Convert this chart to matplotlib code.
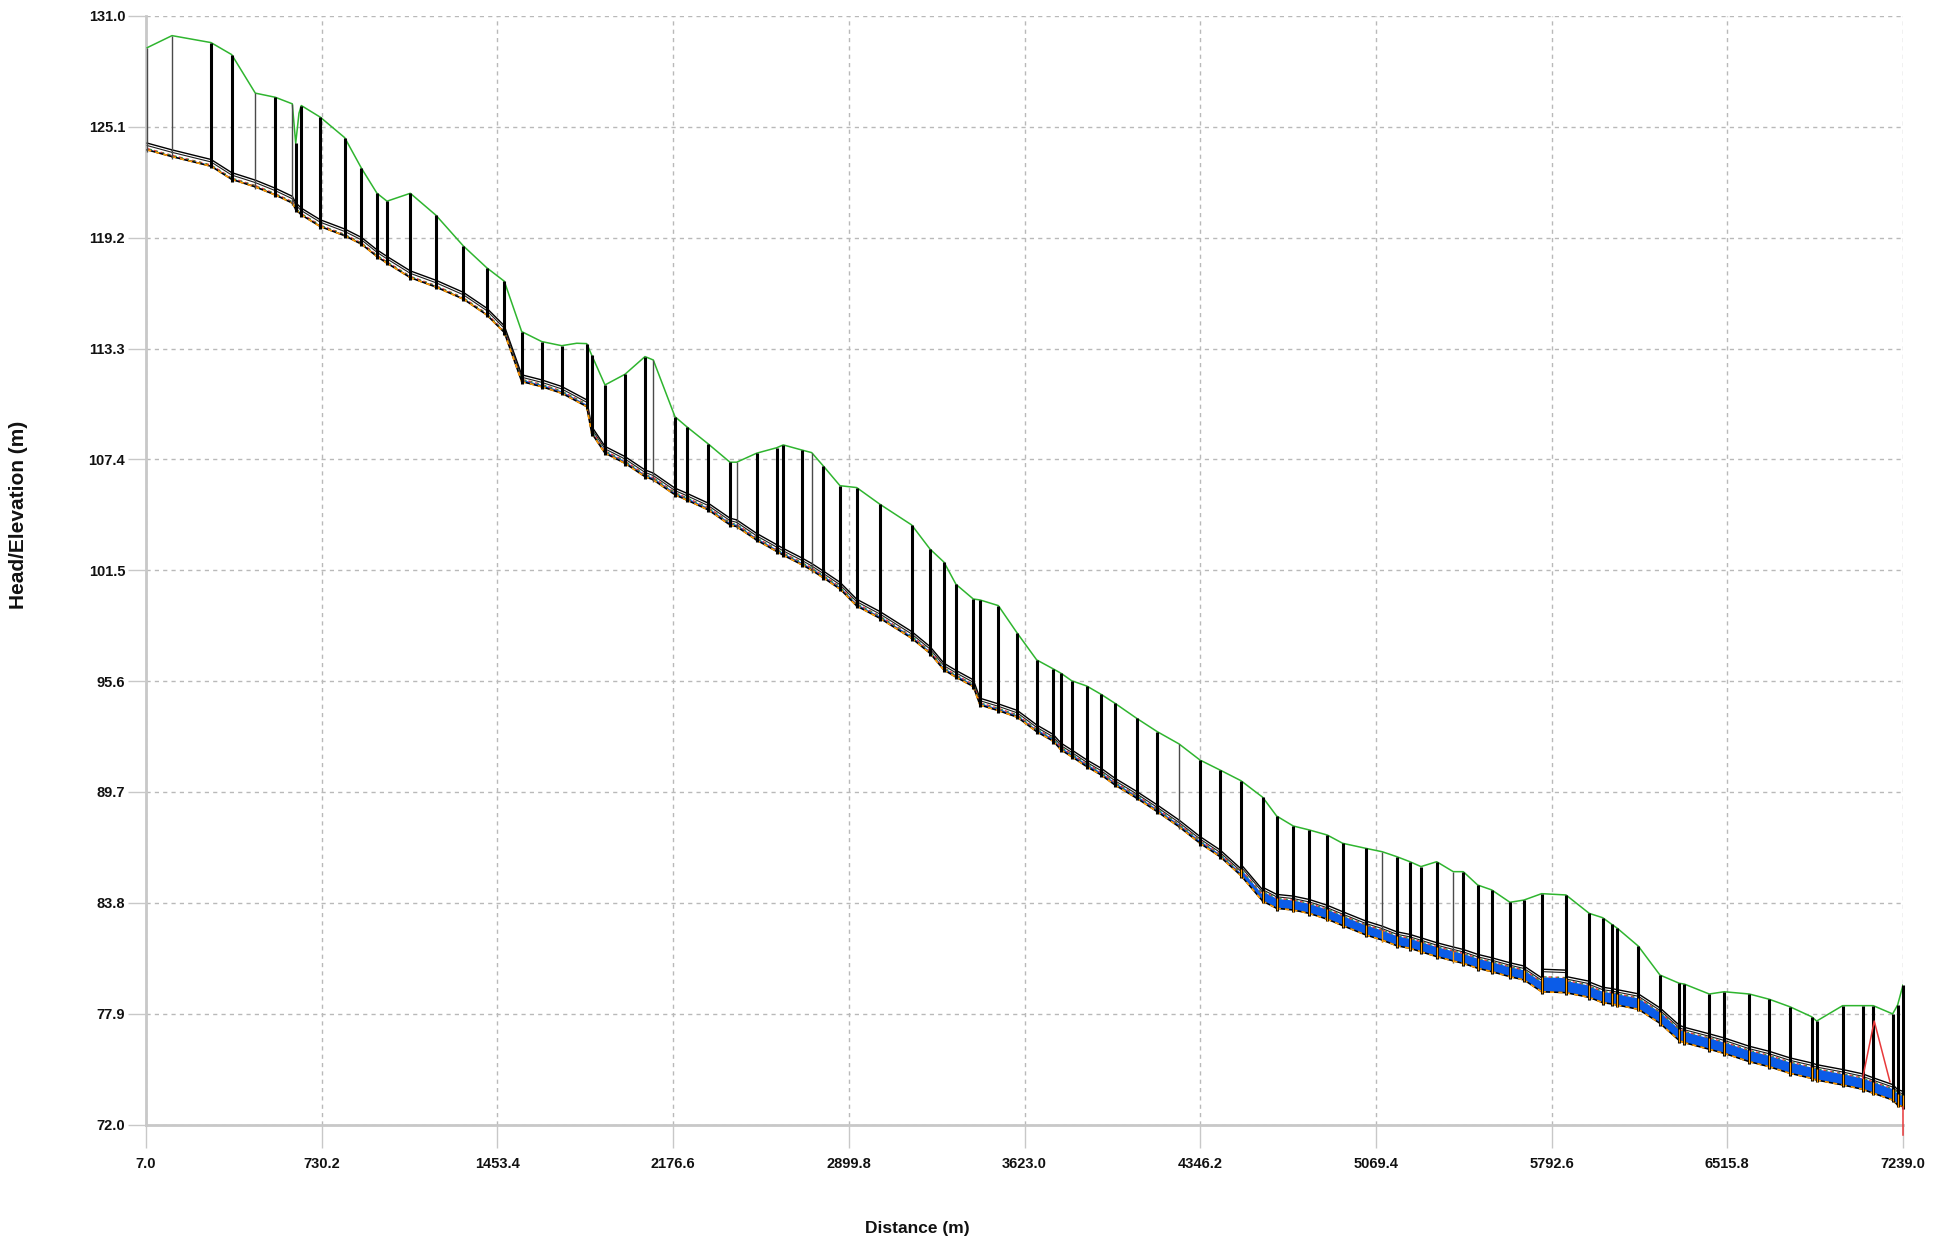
import numpy as np
import matplotlib
matplotlib.use("Agg")
import matplotlib.pyplot as plt

# ---------------------------------------------------------------------------
# Sewer long-section: manhole stations (m), rim / ground and invert levels (m)
# ---------------------------------------------------------------------------
station = [
    12.0, 114.0, 274.5, 359.7, 456.9, 539.2, 609.2, 623.2, 646.2, 724.4,
    824.9, 894.0, 957.8, 999.0, 1094.9, 1200.6, 1313.0, 1409.3, 1481.8, 1553.4,
    1635.7, 1718.0, 1820.9, 1841.5, 1896.2, 1978.6, 2060.9, 2095.0, 2184.4, 2232.5,
    2321.4, 2410.7, 2438.3, 2520.6, 2603.0, 2630.1, 2705.9, 2747.0, 2794.8, 2863.5,
    2932.2, 3028.1, 3158.6, 3233.9, 3291.6, 3341.0, 3412.2, 3439.7, 3515.1, 3593.3,
    3673.1, 3741.4, 3773.1, 3817.2, 3878.9, 3937.8, 3995.4, 4084.7, 4169.5, 4258.8,
    4345.3, 4427.6, 4514.0, 4603.3, 4660.9, 4729.3, 4795.1, 4869.2, 4932.6, 5028.5,
    5095.6, 5154.9, 5209.6, 5254.9, 5319.5, 5387.8, 5429.0, 5488.3, 5545.9, 5621.2,
    5678.8, 5751.7, 5851.7, 5947.6, 6002.8, 6039.8, 6062.9, 6149.3, 6238.6, 6318.1,
    6338.6, 6441.5, 6503.3, 6606.2, 6688.5, 6773.7, 6863.0, 6883.6, 6990.6, 7072.9,
    7116.6, 7196.4, 7217.0, 7239.0,
]
ground = [
    129.31, 129.95, 129.58, 128.94, 126.89, 126.67, 126.32, 124.22, 126.23, 125.61,
    124.52, 122.89, 121.56, 121.14, 121.56, 120.39, 118.76, 117.60, 116.88, 114.20,
    113.67, 113.45, 113.56, 112.95, 111.36, 111.93, 112.87, 112.69, 109.67, 109.14,
    108.22, 107.25, 107.25, 107.73, 108.02, 108.17, 107.90, 107.76, 107.05, 106.00,
    105.90, 105.01, 103.91, 102.63, 101.93, 100.75, 99.97, 99.92, 99.62, 98.15,
    96.73, 96.25, 96.02, 95.62, 95.34, 94.90, 94.42, 93.62, 92.91, 92.26,
    91.40, 90.87, 90.30, 89.42, 88.42, 87.89, 87.68, 87.41, 86.97, 86.70,
    86.52, 86.26, 85.99, 85.73, 85.99, 85.46, 85.46, 84.75, 84.49, 83.83,
    83.95, 84.29, 84.22, 83.24, 83.01, 82.66, 82.45, 81.50, 79.96, 79.52,
    79.48, 78.95, 79.07, 78.95, 78.67, 78.27, 77.74, 77.51, 78.33, 78.33,
    78.33, 77.89, 78.37, 79.43,
]
invert = [
    123.87, 123.51, 123.00, 122.30, 121.90, 121.47, 121.04, 120.70, 120.41, 119.79,
    119.30, 118.85, 118.19, 117.84, 117.07, 116.57, 115.93, 115.09, 114.15, 111.54,
    111.27, 110.92, 110.21, 108.79, 107.73, 107.19, 106.48, 106.31, 105.51, 105.24,
    104.71, 103.91, 103.82, 103.10, 102.50, 102.30, 101.80, 101.50, 101.10, 100.50,
    99.60, 98.94, 97.88, 97.08, 96.19, 95.81, 95.31, 94.33, 94.03, 93.68,
    92.91, 92.40, 91.94, 91.58, 91.05, 90.61, 90.07, 89.37, 88.65, 87.85,
    86.97, 86.26, 85.25, 83.89, 83.51, 83.42, 83.24, 82.93, 82.59, 82.09,
    81.82, 81.52, 81.38, 81.20, 80.94, 80.71, 80.58, 80.32, 80.14, 79.87,
    79.70, 79.07, 79.02, 78.77, 78.49, 78.42, 78.36, 78.14, 77.39, 76.47,
    76.36, 76.01, 75.79, 75.35, 75.08, 74.73, 74.46, 74.37, 74.11, 73.88,
    73.67, 73.31, 73.04, 72.95,
]

# ground survey points lying between manholes
ground_extra_station = [636.7, 1779.8]
ground_extra_elev = [125.82, 113.58]

# pipe i runs from manhole i to manhole i+1: conduit height and flow depth (m)
diameter = [
    0.36, 0.36, 0.36, 0.36, 0.36, 0.36, 0.36, 0.36, 0.36, 0.36,
    0.36, 0.36, 0.36, 0.36, 0.36, 0.36, 0.36, 0.36, 0.36, 0.36,
    0.36, 0.36, 0.36, 0.36, 0.36, 0.36, 0.36, 0.36, 0.36, 0.36,
    0.36, 0.36, 0.36, 0.36, 0.36, 0.36, 0.36, 0.36, 0.36, 0.36,
    0.36, 0.36, 0.36, 0.36, 0.36, 0.36, 0.36, 0.36, 0.36, 0.36,
    0.36, 0.36, 0.36, 0.36, 0.36, 0.36, 0.36, 0.36, 0.36, 0.36,
    0.36, 0.36, 0.60, 0.74, 0.74, 0.74, 0.74, 0.74, 0.74, 0.74,
    0.74, 0.74, 0.74, 0.74, 0.74, 0.74, 0.74, 0.74, 0.74, 0.74,
    0.74, 1.20, 0.86, 0.82, 0.82, 0.82, 0.82, 0.82, 0.82, 0.82,
    0.82, 0.82, 0.82, 0.82, 0.82, 0.82, 0.82, 0.82, 0.82, 0.82,
    0.82, 0.82, 0.82,
]
depth = [
    0.07, 0.07, 0.07, 0.07, 0.07, 0.07, 0.07, 0.07, 0.07, 0.07,
    0.07, 0.07, 0.07, 0.07, 0.07, 0.07, 0.07, 0.07, 0.07, 0.12,
    0.12, 0.12, 0.12, 0.12, 0.12, 0.12, 0.12, 0.12, 0.12, 0.12,
    0.12, 0.12, 0.12, 0.12, 0.12, 0.12, 0.12, 0.12, 0.12, 0.12,
    0.12, 0.12, 0.12, 0.12, 0.12, 0.12, 0.12, 0.12, 0.12, 0.12,
    0.14, 0.14, 0.14, 0.14, 0.14, 0.14, 0.14, 0.14, 0.14, 0.14,
    0.14, 0.14, 0.34, 0.53, 0.53, 0.53, 0.53, 0.53, 0.53, 0.53,
    0.53, 0.53, 0.53, 0.53, 0.53, 0.53, 0.53, 0.53, 0.53, 0.53,
    0.53, 0.80, 0.65, 0.60, 0.60, 0.60, 0.60, 0.60, 0.60, 0.60,
    0.60, 0.60, 0.60, 0.60, 0.60, 0.60, 0.60, 0.60, 0.60, 0.60,
    0.60, 0.60, 0.60,
]

# manholes drawn with a light outline
thin_manholes = [0, 1, 4, 6, 27, 32, 37, 59, 70, 75]

# hydraulic grade line where it leaves the conduits
hgl_surcharge_x = [7072.9, 7120.6, 7185.2]
hgl_surcharge_y = [74.46, 77.51, 74.28]
outfall_hgl_x = [7239.0, 7239.0]
outfall_hgl_y = [72.95, 71.45]

x_ticks = [7.0, 730.2, 1453.4, 2176.6, 2899.8, 3623.0, 4346.2, 5069.4, 5792.6, 6515.8, 7239.0]
y_ticks = [72.0, 77.9, 83.8, 89.7, 95.6, 101.5, 107.4, 113.3, 119.2, 125.1, 131.0]

# ---------------------------------------------------------------------------
FONT = ["Liberation Sans", "DejaVu Sans"]
GREEN = "#2fb52f"
BLUE = "#0b5ce8"
ORANGE = "#ff9a00"
RED = "#e8393a"
AXIS_GREY = "#c8c8c8"

W, H = 1950, 1244
fig = plt.figure(figsize=(W / 100, H / 100), dpi=100)
ax = fig.add_axes([146 / W, 1 - 1124.6 / H, 1757 / W, 1108.7 / H])

st = np.asarray(station)
inv = np.asarray(invert)
gr = np.asarray(ground)
dia = np.asarray(diameter)
dep = np.asarray(depth)

# conduits: flow area, crown, soffit, water surface, invert
for i in range(len(st) - 1):
    xs = [st[i], st[i + 1]]
    bot = np.array([inv[i], inv[i + 1]])
    wat = bot + dep[i]
    crown = bot + dia[i]
    ax.fill_between(xs, bot, wat, color=BLUE, lw=0, zorder=2)
    ax.plot(xs, crown, color="black", lw=1.0, zorder=3)
    ax.plot(xs, crown - 0.13, color="#1e1e1e", lw=0.8, zorder=3)
    ax.plot(xs, wat, color=RED, lw=1.0, ls=(0, (2.5, 2.5)), zorder=3)
    ax.plot(xs, wat, color="#2a9a4a", lw=0.9, ls=(2.5, (1.5, 3.5)), zorder=3)
    ax.plot(xs, bot, color="black", lw=1.1, zorder=3)
    ax.plot(xs, bot, color=ORANGE, lw=1.2, ls=(0, (2.5, 2.5)), zorder=3)

# ground profile
gx = np.concatenate([st, ground_extra_station])
gz = np.concatenate([gr, ground_extra_elev])
order = np.argsort(gx)
ax.plot(gx[order], gz[order], color=GREEN, lw=1.1, zorder=4)

# manholes
for i in range(len(st)):
    thin = i in thin_manholes
    ax.plot([st[i], st[i]], [inv[i] - 0.12, gr[i]],
            color="#4a4a4a" if thin else "black",
            lw=1.0 if thin else 2.2, zorder=5, clip_on=False,
            solid_capstyle="butt")
    up = dep[i - 1] if i > 0 else 0.0
    dn = dep[i] if i < len(dep) else 0.0
    wet = max(up, dn)
    if wet >= 0.3:
        ax.plot([st[i], st[i]], [inv[i] - 0.08, inv[i] + wet],
                color=ORANGE, lw=0.9, zorder=6, clip_on=False,
                solid_capstyle="butt")

ax.plot(hgl_surcharge_x, hgl_surcharge_y, color=RED, lw=1.1, zorder=6)
ax.plot(outfall_hgl_x, outfall_hgl_y, color=RED, lw=1.1, zorder=6, clip_on=False)

# axes, grid and labels
ax.set_xlim(7.0, 7239.0)
ax.set_ylim(72.0, 131.0)
ax.set_xticks(x_ticks)
ax.set_yticks(y_ticks)
ax.set_xticklabels([f"{v:.1f}" for v in x_ticks])
ax.set_yticklabels([f"{v:.1f}" for v in y_ticks])
ax.set_axisbelow(True)
ax.grid(True, color="#b9b9b9", lw=1.0, ls=(0, (3, 3)))

for side in ("top", "right"):
    ax.spines[side].set_visible(False)
for side in ("left", "bottom"):
    ax.spines[side].set_color(AXIS_GREY)
    ax.spines[side].set_linewidth(2.0)
    ax.spines[side].set_zorder(1)

ax.tick_params(axis="y", length=13, width=1.0, color=AXIS_GREY, pad=2)
ax.tick_params(axis="x", length=16.5, width=1.0, color=AXIS_GREY, pad=7)
for lab in ax.get_xticklabels() + ax.get_yticklabels():
    lab.set_fontfamily(FONT)
    lab.set_fontweight("bold")
    lab.set_fontsize(10.5)
    lab.set_color("#111111")

fig.text(19 / W, 1 - 515 / H, "Head/Elevation (m)", rotation=90,
         ha="center", va="center", fontsize=15, fontweight="bold",
         family=FONT, color="#111111")
fig.text(917 / W, 1 - 1228 / H, "Distance (m)", ha="center", va="center",
         fontsize=12.5, fontweight="bold", family=FONT, color="#111111")

fig.savefig("out.png", dpi=100, facecolor="white")
